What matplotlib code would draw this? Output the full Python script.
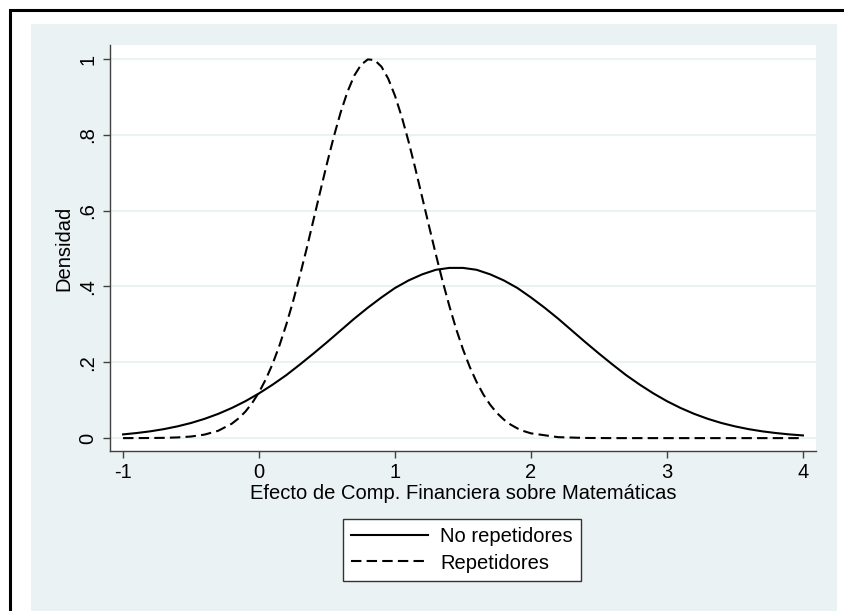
import matplotlib.pyplot as plt
from matplotlib.patches import Rectangle

plt.rcParams['font.family'] = ['Liberation Sans', 'DejaVu Sans']

# Effect values (x) and estimated densities
x_vals = [-1.0, -0.9, -0.8, -0.7, -0.6, -0.5, -0.4, -0.3, -0.2, -0.1,
          0.0, 0.1, 0.2, 0.3, 0.4, 0.5, 0.6, 0.7, 0.8, 0.9,
          1.0, 1.1, 1.2, 1.3, 1.4, 1.5, 1.6, 1.7, 1.8, 1.9,
          2.0, 2.1, 2.2, 2.3, 2.4, 2.5, 2.6, 2.7, 2.8, 2.9,
          3.0, 3.1, 3.2, 3.3, 3.4, 3.5, 3.6, 3.7, 3.8, 3.9, 4.0]

no_repetidores = [0.0098, 0.0134, 0.0179, 0.0237, 0.0310, 0.0399, 0.0509, 0.0640, 0.0795, 0.0974,
                  0.118, 0.141, 0.166, 0.194, 0.223, 0.253, 0.284, 0.315, 0.344, 0.371,
                  0.396, 0.416, 0.432, 0.444, 0.449, 0.449, 0.444, 0.432, 0.416, 0.396,
                  0.371, 0.344, 0.315, 0.284, 0.253, 0.223, 0.194, 0.166, 0.141, 0.118,
                  0.0974, 0.0795, 0.0640, 0.0509, 0.0399, 0.0310, 0.0237, 0.0179, 0.0134, 0.0098, 0.0071]

# the narrow curve is read at a finer step around its peak
x_rep = [-1.0, -0.9, -0.8, -0.7, -0.6, -0.5, -0.4, -0.3, -0.2, -0.15,
         -0.1, -0.05, 0.0, 0.05, 0.1, 0.15, 0.2, 0.25, 0.3, 0.35,
         0.4, 0.45, 0.5, 0.55, 0.6, 0.65, 0.7, 0.75, 0.8, 0.85,
         0.9, 0.95, 1.0, 1.05, 1.1, 1.15, 1.2, 1.25, 1.3, 1.35,
         1.4, 1.45, 1.5, 1.55, 1.6, 1.65, 1.7, 1.75, 1.8, 1.85,
         1.9, 1.95, 2.0, 2.2, 2.4, 2.6, 3.0, 3.5, 4.0]

repetidores = [0.0000, 0.0001, 0.0003, 0.0007, 0.0018, 0.0042, 0.0093, 0.0194, 0.0381, 0.0521,
               0.0700, 0.0928, 0.121, 0.1553, 0.196, 0.2442, 0.299, 0.3604, 0.428, 0.4996,
               0.575, 0.6505, 0.725, 0.7953, 0.859, 0.9132, 0.956, 0.9847, 0.999, 0.9972,
               0.980, 0.9483, 0.903, 0.8469, 0.782, 0.7103, 0.635, 0.5595, 0.485, 0.4139,
               0.348, 0.2875, 0.234, 0.1875, 0.148, 0.1149, 0.0879, 0.0661, 0.0490, 0.0357,
               0.0256, 0.0181, 0.0126, 0.0025, 0.0004, 0.0, 0.0, 0.0, 0.0]

x_ticks = [-1, 0, 1, 2, 3, 4]
x_tick_labels = ['-1', '0', '1', '2', '3', '4']
y_ticks = [0, 0.2, 0.4, 0.6, 0.8, 1.0]
y_tick_labels = ['0', '.2', '.4', '.6', '.8', '1']

W, H = 844, 611
fig = plt.figure(figsize=(W / 100, H / 100), dpi=100)
fig.patch.set_facecolor('white')

# outer black frame and light graph region (Stata s2color look)
fig.patches.append(Rectangle((10 / W, -0.1), 1.2, 1 - 10 / H + 0.1, transform=fig.transFigure,
                             facecolor='white', edgecolor='black', lw=2.2, zorder=-3))
fig.patches.append(Rectangle((31 / W, -0.1), (837 - 31) / W, 1 - 24 / H + 0.1, transform=fig.transFigure,
                             facecolor='#eaf2f3', edgecolor='none', zorder=-2))

ax = fig.add_axes([110 / W, 1 - 451 / H, (816 - 110) / W, (451 - 45) / H])
ax.set_facecolor('white')

ax.plot(x_vals, no_repetidores, color='black', lw=1.5, label='No repetidores')
ax.plot(x_rep, repetidores, color='black', lw=1.5, linestyle=(0, (5, 2.5)), label='Repetidores')

ax.set_xlim(-1.096, 4.096)
ax.set_ylim(-0.034, 1.037)
ax.set_xticks(x_ticks)
ax.set_xticklabels(x_tick_labels)
ax.set_yticks(y_ticks)
ax.set_yticklabels(y_tick_labels, rotation=90, va='center')

ax.set_axisbelow(True)
ax.yaxis.grid(True, color='#eaf2f3', lw=1.5)

for s in ['top', 'right']:
    ax.spines[s].set_visible(False)
for s in ['left', 'bottom']:
    ax.spines[s].set_color('#404040')
    ax.spines[s].set_linewidth(1)

ax.tick_params(direction='out', length=5, width=1, color='#404040', labelsize=14.5, pad=4)

ax.set_xlabel('Efecto de Comp. Financiera sobre Matemáticas', fontsize=14.5, labelpad=1)
ax.set_ylabel('Densidad', fontsize=14.5, labelpad=4)

leg = fig.legend(loc='center', bbox_to_anchor=(462 / W, 1 - 550 / H), fontsize=14.5,
                 frameon=True, fancybox=False, handlelength=3.8, handletextpad=0.6,
                 borderpad=0.4, labelspacing=0.35)
leg.get_frame().set_edgecolor('#333333')
leg.get_frame().set_linewidth(1)
leg.get_frame().set_facecolor('white')
leg.get_frame().set_alpha(1)

plt.savefig('out.png', dpi=100)
